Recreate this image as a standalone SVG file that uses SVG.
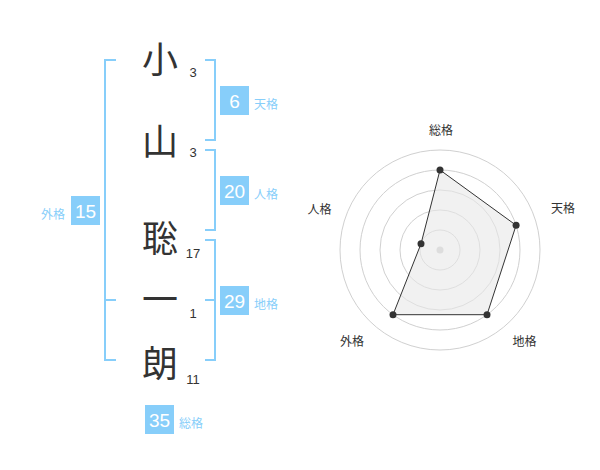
<svg xmlns="http://www.w3.org/2000/svg" width="600" height="470" viewBox="0 0 600 470">
<style>
.ch{font-family:"Noto Sans CJK JP","Noto Sans CJK SC",sans-serif;font-size:36px;fill:#333;text-anchor:middle}
.st{font-family:"Liberation Sans",Arial,sans-serif;font-size:13px;fill:#333;text-anchor:middle}
.br{fill:none;stroke:#87cefa;stroke-width:2}
.bx{fill:#87cefa}
.bn{font-family:"Liberation Sans",Arial,sans-serif;font-size:19px;fill:#fff;text-anchor:middle}
.lb{font-family:"Noto Sans CJK JP","Noto Sans CJK SC",sans-serif;font-size:12px;fill:#87cefa}
.rl{font-family:"Noto Sans CJK JP","Noto Sans CJK SC",sans-serif;font-size:12px;fill:#333;text-anchor:middle}
.ring{fill:none;stroke:#d0d0d0;stroke-width:1}
.pt{fill:#333}
</style>
<rect width="600" height="470" fill="#fff"/>
<g id="connectors">
<path class="br" d="M116,60 H105 V360 H116 M105,300 H116"/>
<path class="br" d="M205,60 H215 V140 H205"/>
<path class="br" d="M205,150 H215 V230 H205"/>
<path class="br" d="M205,240 H215 V360 H205 M205,300 H215"/>
</g>
<g id="char-1"><text class="ch" x="160" y="73">小</text><text class="st" x="193" y="77">3</text></g>
<g id="char-2"><text class="ch" x="160" y="155">山</text><text class="st" x="193" y="157">3</text></g>
<g id="char-3"><text class="ch" x="160" y="252">聡</text><text class="st" x="193" y="258">17</text></g>
<g id="char-4"><text class="ch" x="160" y="313">一</text><text class="st" x="193" y="318">1</text></g>
<g id="char-5"><text class="ch" x="160" y="377">朗</text><text class="st" x="193" y="384">11</text></g>
<g id="tenkaku"><rect class="bx" x="220" y="86" width="29" height="29"/><text class="bn" x="234.5" y="108">6</text><text class="lb" x="254" y="108.5">天格</text></g>
<g id="jinkaku"><rect class="bx" x="220" y="176" width="29" height="29"/><text class="bn" x="234.5" y="198">20</text><text class="lb" x="254" y="198.5">人格</text></g>
<g id="chikaku"><rect class="bx" x="220" y="286" width="29" height="29"/><text class="bn" x="234.5" y="308">29</text><text class="lb" x="254" y="308.5">地格</text></g>
<g id="gaikaku"><rect class="bx" x="71" y="196" width="29" height="29"/><text class="bn" x="85.5" y="218">15</text><text class="lb" x="65" y="218.5" text-anchor="end">外格</text></g>
<g id="soukaku"><rect class="bx" x="145" y="405" width="29" height="29"/><text class="bn" x="159.5" y="427">35</text><text class="lb" x="179" y="427.5">総格</text></g>
<g id="radar">
<circle class="ring" cx="440" cy="250" r="20"/>
<circle class="ring" cx="440" cy="250" r="40"/>
<circle class="ring" cx="440" cy="250" r="60"/>
<circle class="ring" cx="440" cy="250" r="80"/>
<circle class="ring" cx="440" cy="250" r="100"/>
<circle cx="440" cy="250" r="3.5" fill="#ccc"/>
<polygon points="440,170 516.1,225.3 487,314.7 393,314.7 421,243.8" fill="#e8e8e8" fill-opacity="0.6" stroke="#333" stroke-width="1"/>
<circle class="pt" cx="440" cy="170" r="3.5"/>
<circle class="pt" cx="516.1" cy="225.3" r="3.5"/>
<circle class="pt" cx="487" cy="314.7" r="3.5"/>
<circle class="pt" cx="393" cy="314.7" r="3.5"/>
<circle class="pt" cx="421" cy="243.8" r="3.5"/>
<text class="rl" x="441" y="135">総格</text>
<text class="rl" x="563" y="213">天格</text>
<text class="rl" x="524.5" y="346">地格</text>
<text class="rl" x="352" y="346">外格</text>
<text class="rl" x="319.5" y="213.5">人格</text>
</g>
</svg>
